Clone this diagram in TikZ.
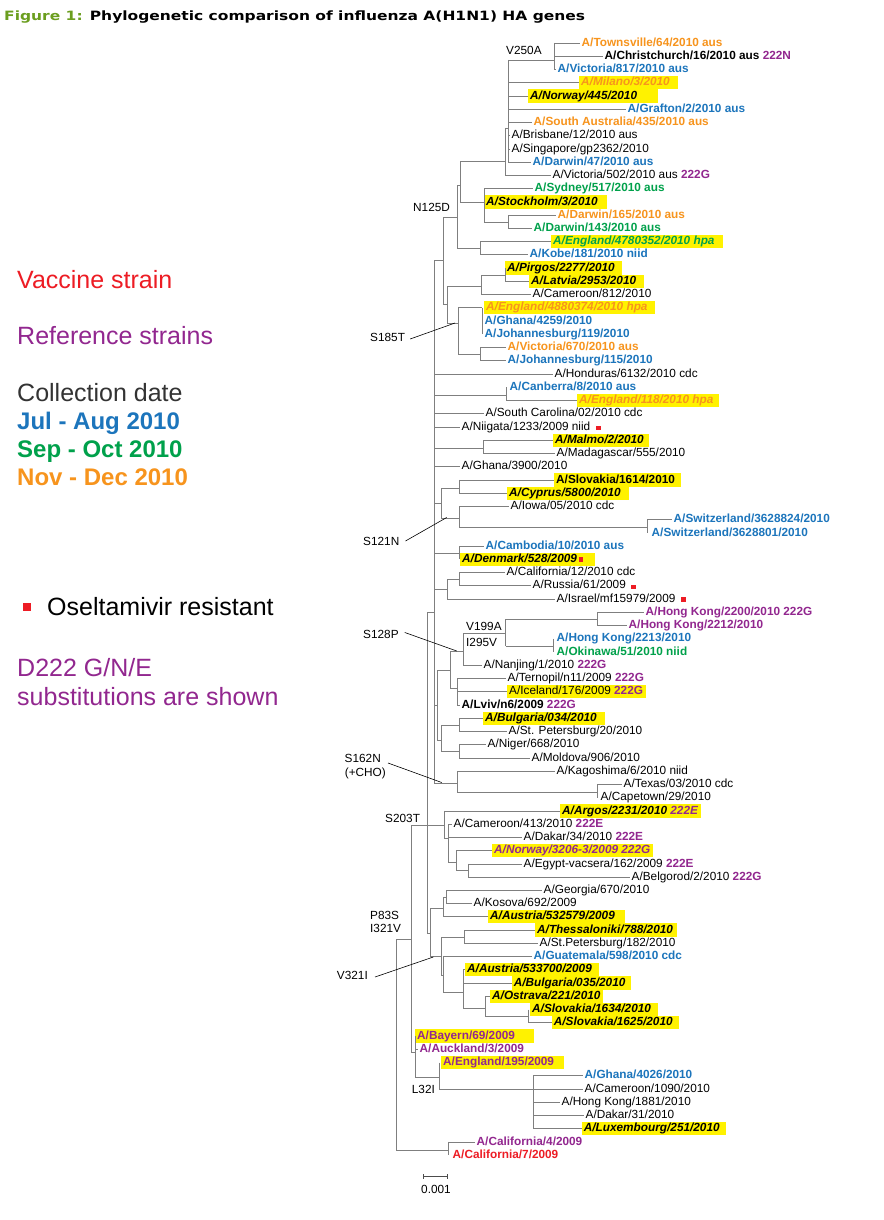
\documentclass[tikz,border=0pt]{standalone}
\usepackage{fontspec}
\usepackage{graphicx}
\setmainfont{Liberation Sans}
\newfontfamily\titlefont{DejaVu Sans}
\definecolor{corange}{HTML}{F7941D}
\definecolor{cblue}{HTML}{1C75BC}
\definecolor{cgreen}{HTML}{00A14B}
\definecolor{cpurple}{HTML}{92278F}
\definecolor{cred}{HTML}{ED1C24}
\definecolor{cyel}{HTML}{FFF200}
\definecolor{cline}{HTML}{7F7F7F}
\definecolor{ctg}{HTML}{6B9E1F}
\definecolor{cdark}{HTML}{333333}
\newcommand\lf{\fontsize{11.8}{13}\selectfont}
\newcommand\pgsub[1]{\textbf{\textcolor{cpurple}{#1}}}
\newcommand\pad[1]{\rule{#1pt}{0pt}}
\newcommand\brL[2]{\draw[br] (#1 |- #2.west) -- (#2.west);}
\newcommand\brN[2]{\draw[br] (#1 |- #2) -- (#2);}
\newcommand\brV[3]{\draw[br] (#1 |- #2) -- (#1 |- #3);}
\tikzset{
 br/.style={draw=cline, line width=0.8pt},
 lf/.style={anchor=west, inner xsep=1.5pt, inner ysep=0pt, text height=8.6pt, text depth=2.4pt, font=\lf},
 nb/.style={lf},
 cb/.style={lf, font=\lf\bfseries},
 hl/.style={lf, fill=cyel, inner xsep=2pt, minimum height=13.3pt},
 hi/.style={hl, font=\lf\bfseries\itshape},
 hb/.style={hl, font=\lf\bfseries},
 rsq/.style={fill=cred, inner sep=0pt, minimum size=4.5pt},
 mut/.style={anchor=west, inner sep=0pt, font=\lf},
 ptr/.style={draw=black, line width=0.6pt},
 leg/.style={anchor=base west, inner sep=0pt, font=\fontsize{25}{28}\selectfont},
 legb/.style={leg, font=\fontsize{24}{27}\selectfont\bfseries},
}
\begin{document}
\begin{tikzpicture}[x=1pt,y=-1pt]
\useasboundingbox (0,0) rectangle (883,1220);
\fill[white] (0,0) rectangle (883,1220);
% title
\node[anchor=west, inner sep=0pt, font=\titlefont\fontsize{12.8}{14}\selectfont\bfseries, text=black] (title) at (4,17) {\scalebox{1.21}[1]{\textcolor{ctg}{Figure 1:} Phylogenetic comparison of influenza A(H1N1) HA genes}};
% legend
\node[leg, text=cred] (lg1) at (17,288) {Vaccine strain};
\node[leg, text=cpurple] (lg2) at (17,344) {Reference strains};
\node[leg, text=cdark] (lg3) at (17,401) {Collection date};
\node[legb, text=cblue] (lg4) at (17,429) {Jul - Aug 2010};
\node[legb, text=cgreen] (lg5) at (17,457) {Sep - Oct 2010};
\node[legb, text=corange] (lg6) at (17,485) {Nov - Dec 2010};
\node[rsq, minimum size=8pt] (lgsq) at (27,607) {};
\node[leg, text=black] (lg7) at (47,615) {Oseltamivir resistant};
\node[leg, text=cpurple] (lg8) at (17,676) {D222 G/N/E};
\node[leg, text=cpurple] (lg9) at (17,705) {substitutions are shown};
% leaves
\node[cb,text=corange] (L0) at (580,43.0) {A/Townsville/64/2010 aus};
\node[cb] (L1) at (603,56.2) {A/Christchurch/16/2010 aus \textcolor{cpurple}{222N}};
\node[cb,text=cblue] (L2) at (556,69.5) {A/Victoria/817/2010 aus};
\node[hi,text=corange] (L3) at (579,82.7) {A/Milano/3/2010\pad{6}};
\node[hi] (L4) at (528,96.0) {A/Norway/445/2010\pad{19}};
\node[cb,text=cblue] (L5) at (626,109.2) {A/Grafton/2/2010 aus};
\node[cb,text=corange] (L6) at (532,122.4) {A/South Australia/435/2010 aus};
\node[nb] (L7) at (510,135.7) {A/Brisbane/12/2010 aus};
\node[nb] (L8) at (510,148.9) {A/Singapore/gp2362/2010};
\node[cb,text=cblue] (L9) at (531,162.2) {A/Darwin/47/2010 aus};
\node[nb] (L10) at (551,175.4) {A/Victoria/502/2010 aus \pgsub{222G}};
\node[cb,text=cgreen] (L11) at (533,188.6) {A/Sydney/517/2010 aus};
\node[hi] (L12) at (484,201.9) {A/Stockholm/3/2010\pad{7}};
\node[cb,text=corange] (L13) at (556,215.1) {A/Darwin/165/2010 aus};
\node[cb,text=cgreen] (L14) at (532,228.4) {A/Darwin/143/2010 aus};
\node[hi,text=cgreen] (L15) at (551,241.6) {A/England/4780352/2010 hpa\pad{6}};
\node[cb,text=cblue] (L16) at (528,254.8) {A/Kobe/181/2010 niid};
\node[hi] (L17) at (505,268.1) {A/Pirgos/2277/2010\pad{5}};
\node[hi] (L18) at (529,281.3) {A/Latvia/2953/2010\pad{6}};
\node[nb] (L19) at (531,294.6) {A/Cameroon/812/2010};
\node[hi,text=corange] (L20) at (484,307.8) {A/England/4880374/2010 hpa\pad{5}};
\node[cb,text=cblue] (L21) at (483,321.0) {A/Ghana/4259/2010};
\node[cb,text=cblue] (L22) at (483,334.3) {A/Johannesburg/119/2010};
\node[cb,text=corange] (L23) at (506,347.5) {A/Victoria/670/2010 aus};
\node[cb,text=cblue] (L24) at (506,360.8) {A/Johannesburg/115/2010};
\node[nb] (L25) at (553,374.0) {A/Honduras/6132/2010 cdc};
\node[cb,text=cblue] (L26) at (508,387.2) {A/Canberra/8/2010 aus};
\node[hi,text=corange] (L27) at (577,400.5) {A/England/118/2010 hpa\pad{4}};
\node[nb] (L28) at (484,413.7) {A/South Carolina/02/2010 cdc};
\node[nb] (L29) at (460,427.0) {A/Niigata/1233/2009 niid};
\node[hi] (L30) at (553,440.2) {A/Malmo/2/2010\pad{3}};
\node[nb] (L31) at (555,453.4) {A/Madagascar/555/2010};
\node[nb] (L32) at (460,466.7) {A/Ghana/3900/2010};
\node[hb] (L33) at (554,479.9) {A/Slovakia/1614/2010\pad{4}};
\node[hi] (L34) at (507,493.2) {A/Cyprus/5800/2010\pad{6}};
\node[nb] (L35) at (509,506.4) {A/Iowa/05/2010 cdc};
\node[cb,text=cblue] (L36) at (672,519.6) {A/Switzerland/3628824/2010};
\node[cb,text=cblue] (L37) at (650,532.9) {A/Switzerland/3628801/2010};
\node[cb,text=cblue] (L38) at (484,546.1) {A/Cambodia/10/2010 aus};
\node[hi] (L39) at (460,559.4) {A/Denmark/528/2009\pad{16}};
\node[nb] (L40) at (505,572.6) {A/California/12/2010 cdc};
\node[nb] (L41) at (531,585.8) {A/Russia/61/2009};
\node[nb] (L42) at (555,599.1) {A/Israel/mf15979/2009};
\node[cb,text=cpurple] (L43) at (644,612.3) {A/Hong Kong/2200/2010 222G};
\node[cb,text=cpurple] (L44) at (627,625.6) {A/Hong Kong/2212/2010};
\node[cb,text=cblue] (L45) at (555,638.8) {A/Hong Kong/2213/2010};
\node[cb,text=cgreen] (L46) at (555,652.0) {A/Okinawa/51/2010 niid};
\node[nb] (L47) at (482,665.3) {A/Nanjing/1/2010 \pgsub{222G}};
\node[nb] (L48) at (506,678.5) {A/Ternopil/n11/2009 \pgsub{222G}};
\node[hl] (L49) at (507,691.8) {A/Iceland/176/2009 \pgsub{222G}\pad{1}};
\node[cb] (L50) at (460,705.0) {A/Lviv/n6/2009 \textcolor{cpurple}{222G}};
\node[hi] (L51) at (483,718.2) {A/Bulgaria/034/2010\pad{6}};
\node[nb] (L52) at (507,731.5) {A/St. Petersburg/20/2010};
\node[nb] (L53) at (486,744.7) {A/Niger/668/2010};
\node[nb] (L54) at (530,758.0) {A/Moldova/906/2010};
\node[nb] (L55) at (555,771.2) {A/Kagoshima/6/2010 niid};
\node[nb] (L56) at (622,784.4) {A/Texas/03/2010 cdc};
\node[nb] (L57) at (599,797.7) {A/Capetown/29/2010};
\node[hi] (L58) at (560,810.9) {A/Argos/2231/2010 \textcolor{cpurple}{222E}\pad{1}};
\node[nb] (L59) at (452,824.2) {A/Cameroon/413/2010 \pgsub{222E}};
\node[nb] (L60) at (522,837.4) {A/Dakar/34/2010 \pgsub{222E}};
\node[hi,text=cpurple] (L61) at (492,850.6) {A/Norway/3206-3/2009 222G\pad{1}};
\node[nb] (L62) at (522,863.9) {A/Egypt-vacsera/162/2009 \pgsub{222E}};
\node[nb] (L63) at (630,877.1) {A/Belgorod/2/2010 \pgsub{222G}};
\node[nb] (L64) at (542,890.4) {A/Georgia/670/2010};
\node[nb] (L65) at (472,903.6) {A/Kosova/692/2009};
\node[hi] (L66) at (488,916.8) {A/Austria/532579/2009\pad{8}};
\node[hi] (L67) at (535,930.1) {A/Thessaloniki/788/2010\pad{2}};
\node[nb] (L68) at (538,943.3) {A/St.Petersburg/182/2010};
\node[cb,text=cblue] (L69) at (532,956.6) {A/Guatemala/598/2010 cdc};
\node[hi] (L70) at (465,969.8) {A/Austria/533700/2009\pad{5}};
\node[hi] (L71) at (511.7,983.0) {A/Bulgaria/035/2010\pad{4}};
\node[hi] (L72) at (490,996.3) {A/Ostrava/221/2010\pad{1}};
\node[hi] (L73) at (530,1009.5) {A/Slovakia/1634/2010\pad{5}};
\node[hi] (L74) at (551.7,1022.8) {A/Slovakia/1625/2010\pad{4}};
\node[hb,text=cpurple] (L75) at (415,1036.0) {A/Bayern/69/2009\pad{17}};
\node[cb,text=cpurple] (L76) at (418,1049.2) {A/Auckland/3/2009};
\node[hb,text=cpurple] (L77) at (441,1062.5) {A/England/195/2009\pad{8}};
\node[cb,text=cblue] (L78) at (583,1075.7) {A/Ghana/4026/2010};
\node[nb] (L79) at (583,1089.0) {A/Cameroon/1090/2010};
\node[nb] (L80) at (560,1102.2) {A/Hong Kong/1881/2010};
\node[nb] (L81) at (584,1115.4) {A/Dakar/31/2010};
\node[hi] (L82) at (581.7,1128.7) {A/Luxembourg/251/2010\pad{4}};
\node[cb,text=cpurple] (L83) at (475,1141.9) {A/California/4/2009};
\node[cb,text=cred] (L84) at (451,1155.2) {A/California/7/2009};
% oseltamivir markers
\node[rsq] (q1) at (598.7,428) {};
\node[rsq] (q2) at (581,559.5) {};
\node[rsq] (q3) at (633.5,587) {};
\node[rsq] (q4) at (683.7,599.7) {};
% internal nodes
\coordinate (A1) at (554,60);
\coordinate (C) at (508,128);
\coordinate (B) at (505,161);
\coordinate (E) at (508,222);
\coordinate (D) at (484,202);
\coordinate (F) at (460,185);
\coordinate (H) at (480,248);
\coordinate (G) at (457,217);
\coordinate (PL) at (505,275);
\coordinate (PC) at (481,286);
\coordinate (K) at (482,307.8);
\coordinate (JN) at (480,354);
\coordinate (S185) at (458,323);
\coordinate (J) at (447,304);
\coordinate (I) at (443,260);
\coordinate (CanN) at (506,395);
\coordinate (MalN) at (483,448);
\coordinate (M) at (459,488);
\coordinate (SwN) at (647,527);
\coordinate (N) at (459,518);
\coordinate (O) at (441,503);
\coordinate (CamN) at (459,553);
\coordinate (P) at (459,579);
\coordinate (Q) at (447,589);
\coordinate (HK22) at (597,619);
\coordinate (HKO) at (553,646);
\coordinate (VN2) at (505.7,633);
\coordinate (SN) at (463,651);
\coordinate (TN) at (457,688);
\coordinate (SP) at (450,670);
\coordinate (BuN) at (459,725);
\coordinate (NiN) at (459,751);
\coordinate (AA) at (441,740);
\coordinate (AB) at (437,705);
\coordinate (TxN) at (597,792);
\coordinate (KagN) at (457,783);
\coordinate (P1) at (434,612);
\coordinate (SX4) at (468,870);
\coordinate (SX3) at (456,862);
\coordinate (SX2) at (448,838);
\coordinate (SX) at (444,825);
\coordinate (GK) at (446,897);
\coordinate (SG1) at (443,908);
\coordinate (ThN) at (464,937);
\coordinate (SlN) at (528,1016);
\coordinate (ON) at (485,1008);
\coordinate (AN) at (463,992);
\coordinate (W2) at (443,975);
\coordinate (VN) at (441,956);
\coordinate (SG) at (430,933);
\coordinate (P2) at (427,825);
\coordinate (T) at (533,1089);
\coordinate (V) at (439,1077);
\coordinate (U) at (415,1052);
\coordinate (S) at (411,939);
\coordinate (CalN) at (448,1150);
\coordinate (Root) at (396,1045);
% branches
\brV{A1}{L0}{L2} \brL{A1}{L0} \brL{A1}{L1} \brL{A1}{L2}
\brV{C}{A1}{L9} \brN{C}{A1} \brL{C}{L3} \brL{C}{L4} \brL{C}{L5} \brL{C}{L6} \brL{C}{L7} \brL{C}{L8} \brL{C}{L9}
\brV{B}{C}{L10} \brN{B}{C} \brL{B}{L10}
\brV{E}{L13}{L14} \brL{E}{L13} \brL{E}{L14}
\brV{D}{L11}{E} \brL{D}{L11} \brL{D}{L12} \brN{D}{E}
\brV{F}{B}{D} \brN{F}{B} \brN{F}{D}
\brV{H}{L15}{L16} \brL{H}{L15} \brL{H}{L16}
\brV{G}{F}{H} \brN{G}{F} \brN{G}{H}
\brV{PL}{L17}{L18} \brL{PL}{L17} \brL{PL}{L18}
\brV{PC}{PL}{L19} \brN{PC}{PL} \brL{PC}{L19}
\brV{K}{L20}{L22}
\brV{JN}{L23}{L24} \brL{JN}{L23} \brL{JN}{L24}
\brV{S185}{K}{JN} \brN{S185}{K} \brN{S185}{JN}
\brV{J}{PC}{S185} \brN{J}{PC} \brN{J}{S185}
\brV{I}{G}{J} \brN{I}{G} \brN{I}{J}
\brV{CanN}{L26}{L27} \brL{CanN}{L27}
\brV{MalN}{L30}{L31} \brL{MalN}{L30} \brL{MalN}{L31}
\brV{M}{L33}{L34} \brL{M}{L33} \brL{M}{L34}
\brV{SwN}{L36}{L37} \brL{SwN}{L36}
\brV{N}{L35}{SwN} \brL{N}{L35} \brN{N}{SwN}
\brV{O}{M}{N} \brN{O}{M} \brN{O}{N}
\brV{CamN}{L38}{L39} \brL{CamN}{L38}
\brV{P}{L40}{L41} \brL{P}{L40} \brL{P}{L41}
\brV{Q}{P}{L42} \brN{Q}{P} \brL{Q}{L42}
\brV{HK22}{L43}{L44} \brL{HK22}{L43} \brL{HK22}{L44}
\brV{HKO}{L45}{L46}
\brV{VN2}{HK22}{HKO} \brN{VN2}{HK22} \brN{VN2}{HKO}
\brV{SN}{VN2}{L47} \brN{SN}{VN2} \brL{SN}{L47}
\brV{TN}{L48}{L50} \brL{TN}{L48} \brL{TN}{L49} \brL{TN}{L50}
\brV{SP}{SN}{TN} \brN{SP}{SN} \brN{SP}{TN}
\brV{BuN}{L51}{L52} \brL{BuN}{L51} \brL{BuN}{L52}
\brV{NiN}{L53}{L54} \brL{NiN}{L53} \brL{NiN}{L54}
\brV{AA}{BuN}{NiN} \brN{AA}{BuN} \brN{AA}{NiN}
\brV{AB}{SP}{AA} \brN{AB}{SP} \brN{AB}{AA}
\brV{TxN}{L56}{L57} \brL{TxN}{L56}
\brV{KagN}{L55}{TxN} \brL{KagN}{L55} \brN{KagN}{TxN}
\brV{P1}{I}{KagN} \brN{P1}{I} \brL{P1}{L25} \brN{P1}{CanN} \brL{P1}{L28} \brL{P1}{L29} \brN{P1}{MalN} \brL{P1}{L32} \brN{P1}{O} \brN{P1}{CamN} \brN{P1}{Q} \brN{P1}{AB} \brN{P1}{KagN}
\brV{SX4}{L62}{L63} \brL{SX4}{L62} \brL{SX4}{L63}
\brV{SX3}{L61}{SX4} \brL{SX3}{L61} \brN{SX3}{SX4}
\brV{SX2}{L59}{SX3} \brL{SX2}{L59} \brL{SX2}{L60} \brN{SX2}{SX3}
\brV{SX}{L58}{SX2} \brL{SX}{L58} \brN{SX}{SX2}
\brV{GK}{L64}{L65} \brL{GK}{L64} \brL{GK}{L65}
\brV{SG1}{GK}{L66} \brN{SG1}{GK} \brL{SG1}{L66}
\brV{ThN}{L67}{L68} \brL{ThN}{L67} \brL{ThN}{L68}
\brV{SlN}{L73}{L74} \brL{SlN}{L74}
\brV{ON}{L72}{SlN} \brL{ON}{L72} \brN{ON}{SlN}
\brV{AN}{L70}{ON} \brL{AN}{L70} \brL{AN}{L71} \brN{AN}{ON}
\brV{W2}{L69}{AN} \brL{W2}{L69} \brN{W2}{AN}
\brV{VN}{ThN}{W2} \brN{VN}{ThN} \brN{VN}{W2}
\brV{SG}{SG1}{VN} \brN{SG}{SG1} \brN{SG}{VN}
\brV{P2}{P1}{SG} \brN{P2}{P1} \brN{P2}{SX} \brN{P2}{SG}
\brV{T}{L78}{L82} \brL{T}{L78} \brL{T}{L79} \brL{T}{L80} \brL{T}{L81} \brL{T}{L82}
\brV{V}{L77}{T} \brN{V}{T}
\brV{U}{L75}{V} \brL{U}{L76} \brN{U}{V}
\brV{S}{P2}{U} \brN{S}{P2} \brN{S}{U}
\brV{CalN}{L83}{L84} \brL{CalN}{L83}
\brV{Root}{S}{CalN} \brN{Root}{S} \brN{Root}{CalN}
% mutation labels
\node[mut] (mV250A) at (506,50) {V250A};
\node[mut] (mN125D) at (413,207) {N125D};
\node[mut] (mS185T) at (370,337) {S185T};
\node[mut] (mS121N) at (363,541) {S121N};
\node[mut] (mS128P) at (363,634.5) {S128P};
\node[mut] (mV199A) at (466,626.5) {V199A};
\node[mut] (mI295V) at (466,642) {I295V};
\node[mut, anchor=east] (mS162N) at (381,758) {S162N};
\node[mut, anchor=east] (mCHO) at (386,773) {(+CHO)};
\node[mut] (mS203T) at (385,818) {S203T};
\node[mut] (mP83S) at (370,915) {P83S};
\node[mut] (mI321V) at (370,928) {I321V};
\node[mut, anchor=east] (mV321I) at (368,975) {V321I};
\node[mut] (mL32I) at (411.7,1089) {L32I};
% pointer targets
\coordinate (tS185T) at (455,323);
\coordinate (tS121N) at (446.7,517.5);
\coordinate (tS128P) at (456.7,651);
\coordinate (tS162N) at (441.7,782.5);
\coordinate (tV321I) at (433.3,957);
\draw[ptr] (mS185T.east) ++(5,2) -- (tS185T);
\draw[ptr] (mS121N.east) ++(6,0) -- (tS121N);
\draw[ptr] (mS128P.east) ++(6,-2) -- (tS128P);
\draw[ptr] (mS162N.east) ++(7,5) -- (tS162N);
\draw[ptr] (mV321I.east) ++(7,2) -- (tV321I);
% scale bar
\coordinate (sb1) at (423,1176);
\coordinate (sb2) at (447,1176);
\draw[line width=0.6pt, draw=black!70] (sb1) -- (sb2);
\draw[line width=0.6pt, draw=black!70] ([yshift=-2.5pt]sb1) -- ([yshift=2.5pt]sb1);
\draw[line width=0.6pt, draw=black!70] ([yshift=-2.5pt]sb2) -- ([yshift=2.5pt]sb2);
\node[mut, anchor=center] (sbl) at (436,1189) {0.001};
\end{tikzpicture}
\end{document}
